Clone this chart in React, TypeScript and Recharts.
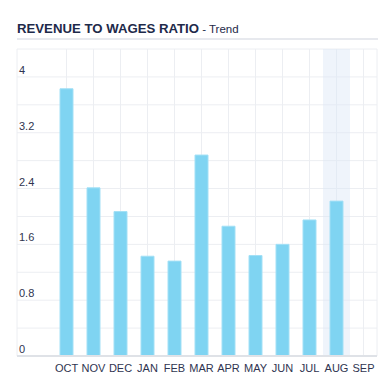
// Revenue-to-wages ratio trend: monthly bars, highlighted current month.
import { BarChart, Bar, CartesianGrid, XAxis, YAxis, ReferenceArea } from "recharts";

const FONT = "'Liberation Sans', Arial, Helvetica, sans-serif";
const NAVY = "#1e2a4a";
const BAR = "#7fd4f2";

const months = ["OCT", "NOV", "DEC", "JAN", "FEB", "MAR", "APR", "MAY", "JUN", "JUL", "AUG", "SEP"];
const ratio: (number | null)[] = [3.83, 2.41, 2.07, 1.43, 1.36, 2.88, 1.86, 1.44, 1.6, 1.95, 2.22, null];
const yTicks = [0, 0.4, 0.8, 1.2, 1.6, 2.0, 2.4, 2.8, 3.2, 3.6, 4.0];
const yLabels = ["0", "0.8", "1.6", "2.4", "3.2", "4"];
const highlighted = "AUG";

const data = months.map((m, i) => ({ month: m, ratio: ratio[i] }));

function YTick(props: any) {
  const { x, y, payload } = props;
  const label = String(payload.value === 0 ? 0 : +payload.value.toFixed(1));
  if (!yLabels.includes(label)) return null;
  return (
    <text x={x} y={y - 3} textAnchor="start" fontSize={11} fill="#2f3450" fontFamily={FONT}>
      {label}
    </text>
  );
}

export default function App() {
  return (
    <div style={{ position: "absolute", left: 0, top: 0, width: 378, height: 382, background: "#fff", fontFamily: FONT }}>
      <div style={{ position: "absolute", left: 17, top: 21, lineHeight: "13px", whiteSpace: "nowrap", color: NAVY }}>
        <span style={{ fontSize: 13.2, fontWeight: 700 }}>REVENUE TO WAGES RATIO</span>
        <span style={{ fontSize: 11.5 }}> - Trend</span>
      </div>
      <div style={{ position: "absolute", left: 17, top: 38, width: 361, height: 2, background: "#e7e9ee" }} />
      <BarChart width={378} height={382} data={data} margin={{ top: 49, right: 1, left: 17, bottom: 0 }}>
        <CartesianGrid stroke="#eceef2" />
        <ReferenceArea x1={highlighted} x2={highlighted} fill="#dce6f7" fillOpacity={0.45} stroke="none" />
        <XAxis dataKey="month" height={26} padding={{ left: 36, right: 0 }} tickLine={false}
          axisLine={{ stroke: "#dfe2e7", strokeWidth: 2 }} interval={0}
          tick={{ fontSize: 11, fill: "#2f3450", fontFamily: FONT }} />
        <YAxis type="number" domain={[0, 4.4]} ticks={yTicks} mirror axisLine={false} tickLine={false}
          tickSize={0} tickMargin={2} tick={<YTick />} />
        <Bar dataKey="ratio" fill={BAR} stroke="#a3e0f6" strokeWidth={1} barSize={13} isAnimationActive={false} />
      </BarChart>
    </div>
  );
}
